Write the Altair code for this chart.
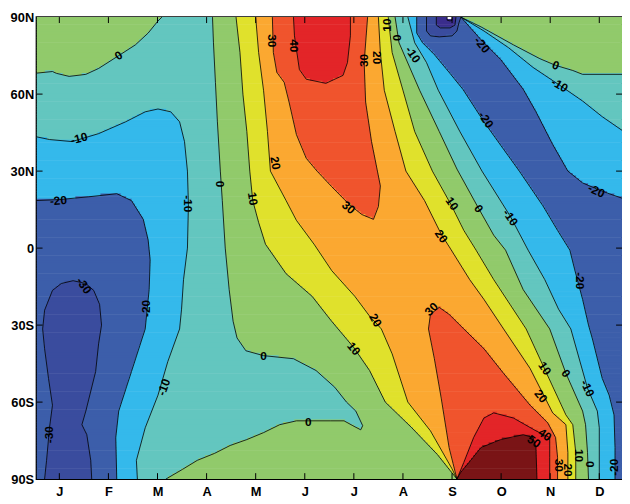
import altair as alt
import pandas as pd

# ---- axis text ----
MONTH_POS = [1, 2, 3, 4, 5, 6, 7, 8, 9, 10, 11, 12]
MONTH_LABELS = ["J", "F", "M", "A", "M", "J", "J", "A", "S", "O", "N", "D"]
LAT_TICKS = [-90, -60, -30, 0, 30, 60, 90]
LAT_LABELS = ["90S", "60S", "30S", "0", "30N", "60N", "90N"]

# ---- contour levels and band colours ----
LEVELS = [-50, -40, -30, -20, -10, 0, 10, 20, 30, 40, 50]
BAND_COLORS = ["#ffffff", "#3a2d8c", "#3a4c9e", "#3c5eaa", "#34b9eb", "#63c6bf",
               "#91ca6b", "#e0e12c", "#fba831", "#f0542d", "#e32528", "#7a1416"]

# ---- contour lines: (month, latitude) ----
C0_TOPLEFT = [(0.50, 68.1), (0.86, 68.8), (0.94, 68.1), (1.20, 66.9), (1.54, 67.7), (1.80, 70.0),
              (2.21, 75.0), (2.55, 79.2), (2.81, 83.8), (3.01, 88.5), (3.09, 90.0)]
CM10_LEFT = [(0.50, 43.5), (0.80, 42.3), (1.26, 41.5), (1.80, 44.6), (2.35, 49.2), (2.75, 53.1),
             (3.01, 54.2), (3.27, 53.1), (3.45, 49.2), (3.55, 41.5), (3.61, 30.0), (3.63, 16.9),
             (3.61, 0.0), (3.53, -12.3), (3.49, -23.8), (3.45, -31.5), (3.21, -44.2), (3.01, -57.3),
             (2.75, -70.0), (2.57, -82.7), (2.59, -90.0)]
CM20_LEFT = [(0.50, 18.5), (1.00, 18.9), (1.60, 20.0), (2.17, 21.2), (2.47, 18.5), (2.71, 11.2),
             (2.81, 3.1), (2.85, -4.6), (2.83, -16.2), (2.79, -23.8), (2.75, -31.5), (2.47, -48.1),
             (2.21, -63.5), (2.15, -73.8), (2.17, -90.0)]
CM30_LOOP = [(0.70, -90.0), (0.74, -82.7), (0.80, -70.0), (0.86, -61.2), (0.78, -50.8), (0.70, -39.2),
             (0.66, -31.5), (0.70, -24.2), (0.86, -16.5), (1.04, -13.8), (1.28, -12.7), (1.54, -13.8),
             (1.70, -16.5), (1.82, -21.9), (1.86, -30.0), (1.80, -37.3), (1.74, -48.1), (1.54, -63.5),
             (1.46, -68.8), (1.56, -72.7), (1.64, -82.7), (1.66, -90.0)]
C0_MAIN = [(4.12, 90.0), (4.14, 80.0), (4.18, 64.6), (4.22, 49.2), (4.28, 30.0), (4.32, 18.5),
           (4.38, 0.0), (4.46, -16.2), (4.54, -28.5), (4.62, -35.0), (4.80, -40.0), (5.16, -41.9),
           (5.77, -43.1), (6.23, -47.7), (6.61, -54.2), (6.85, -60.0), (7.04, -63.5), (7.18, -69.2),
           (7.14, -70.8), (6.98, -69.2), (6.80, -67.3), (6.53, -67.3), (5.83, -67.3), (5.49, -68.8),
           (5.16, -71.9), (4.82, -74.6), (4.48, -76.9), (4.16, -80.0), (3.81, -82.7), (3.51, -86.2),
           (3.17, -90.0)]
C10_LEFT = [(4.60, 90.0), (4.68, 76.2), (4.74, 60.0), (4.82, 45.4), (4.88, 30.0), (4.94, 18.5),
            (5.06, 10.0), (5.20, 1.5), (5.62, -10.0), (6.15, -18.8), (6.53, -28.1), (7.00, -38.8),
            (7.32, -47.7), (7.64, -60.0), (8.18, -70.0), (8.70, -80.4), (9.10, -90.0)]
C20_LEFT = [(5.00, 90.0), (5.06, 76.2), (5.16, 61.5), (5.24, 45.4), (5.30, 30.0), (5.62, 18.5),
            (5.83, 10.8), (6.19, 1.5), (6.55, -8.8), (7.02, -18.8), (7.32, -26.5), (7.56, -31.5),
            (7.78, -41.2), (8.10, -60.0), (8.56, -71.2), (9.00, -86.0), (9.10, -90.0)]
C30_TOP = [(5.34, 90.0), (5.36, 76.2), (5.43, 68.5), (5.58, 64.6), (5.68, 56.9), (5.83, 44.2),
           (6.03, 35.0), (6.25, 30.0), (6.55, 23.9), (6.89, 17.3), (7.16, 13.1), (7.40, 11.2),
           (7.50, 16.2), (7.54, 24.2), (7.48, 30.0), (7.36, 41.5), (7.24, 56.9), (7.21, 72.3),
           (7.28, 90.0)]
C40_TOP = [(5.77, 90.0), (5.79, 82.7), (5.89, 69.6), (6.03, 65.8), (6.43, 64.2), (6.78, 67.3),
           (6.87, 72.3), (6.93, 82.7), (6.93, 90.0)]
C20_RIGHT = [(7.50, 90.0), (7.54, 76.2), (7.62, 61.5), (7.84, 45.4), (8.06, 30.0), (8.44, 18.5),
             (8.78, 5.4), (8.96, 0.0), (9.36, -12.3), (9.65, -20.0), (10.05, -31.5), (10.59, -46.9),
             (11.05, -64.2), (11.32, -68.8), (11.36, -79.6), (11.36, -90.0)]
C10_RIGHT = [(7.70, 90.0), (7.78, 76.2), (8.00, 61.5), (8.24, 45.4), (8.60, 30.0), (8.98, 16.9),
             (9.24, 6.9), (9.49, -0.8), (9.85, -12.3), (10.51, -31.5), (10.91, -48.1), (11.32, -65.0),
             (11.46, -68.8), (11.52, -79.6), (11.52, -90.0)]
C0_RIGHT = [(7.84, 90.0), (7.92, 80.0), (8.34, 61.5), (8.74, 45.4), (9.10, 30.8), (9.52, 16.2),
            (9.85, 5.0), (10.09, -0.8), (10.45, -16.2), (10.99, -31.5), (11.32, -48.8), (11.66, -63.5),
            (11.72, -68.8), (11.76, -79.6), (11.78, -90.0)]
CM10_RIGHT = [(8.10, 90.0), (8.24, 80.0), (8.48, 72.3), (8.72, 61.5), (9.16, 45.4), (9.61, 30.0),
              (10.19, 12.3), (10.55, -0.8), (10.89, -12.3), (11.17, -23.8), (11.42, -31.5),
              (11.76, -54.6), (11.96, -63.5), (12.00, -70.0), (12.00, -90.0)]
CM20_RIGHT = [(8.28, 90.0), (8.28, 83.8), (8.40, 80.0), (8.64, 75.4), (8.94, 68.5), (9.22, 61.9),
              (9.65, 49.2), (10.05, 38.5), (10.37, 30.0), (10.85, 16.5), (11.15, 6.9), (11.40, -0.8),
              (11.50, -8.5), (11.66, -20.0), (11.78, -30.0), (11.86, -35.4), (12.06, -50.8),
              (12.20, -57.3), (12.30, -65.0), (12.32, -77.7), (12.32, -90.0)]
CM20_TOPRIGHT = [(9.18, 90.0), (9.59, 81.2), (9.99, 73.5), (10.45, 61.9), (10.71, 53.1), (11.05, 40.4),
                 (11.36, 30.0), (11.66, 25.4), (11.94, 23.1), (12.20, 21.2), (12.50, 19.2)]
CM10_TOPRIGHT = [(9.18, 90.0), (9.65, 84.6), (10.15, 78.1), (10.65, 70.4), (11.19, 63.5), (11.66, 57.3),
                 (12.06, 51.2), (12.50, 45.4)]
C0_TOPRIGHT = [(9.18, 90.0), (9.59, 86.2), (10.25, 79.2), (10.79, 73.8), (11.11, 71.2), (11.46, 69.2),
               (11.66, 67.7), (12.50, 67.7)]
CM30_TOP = [(8.48, 90.0), (8.48, 84.6), (8.56, 82.7), (8.74, 82.3), (9.00, 82.7), (9.10, 84.6),
            (9.14, 87.7), (9.18, 90.0)]
CM40_TOP = [(8.68, 90.0), (8.68, 86.9), (8.76, 85.8), (8.96, 85.8), (9.06, 86.9), (9.08, 90.0)]
CM50_TOP = [(8.90, 90.0), (8.90, 88.8), (8.96, 88.5), (9.00, 88.8), (9.00, 90.0)]
C30_BOTTOM = [(9.10, -90.0), (8.94, -77.7), (8.78, -58.5), (8.64, -43.1), (8.52, -31.5), (8.56, -25.8),
              (8.74, -23.1), (8.94, -25.8), (9.24, -31.5), (9.65, -39.2), (10.05, -48.8), (10.59, -61.2),
              (10.95, -68.1), (11.11, -73.8), (11.15, -81.5), (11.15, -90.0)]
C40_BOTTOM = [(9.10, -90.0), (9.24, -83.5), (9.44, -73.8), (9.65, -66.2), (9.85, -64.2), (10.25, -66.2),
              (10.71, -71.2), (10.99, -73.8), (10.99, -81.5), (10.99, -90.0)]
C50_BOTTOM = [(9.10, -90.0), (9.18, -87.3), (9.38, -82.7), (9.59, -77.7), (9.99, -74.6), (10.45, -72.7),
              (10.65, -73.8), (10.71, -77.7), (10.73, -90.0)]

CONTOURS = [
    (0, C0_TOPLEFT), (-10, CM10_LEFT), (-20, CM20_LEFT), (-30, CM30_LOOP), (0, C0_MAIN),
    (10, C10_LEFT), (20, C20_LEFT), (30, C30_TOP), (40, C40_TOP), (20, C20_RIGHT),
    (10, C10_RIGHT), (0, C0_RIGHT), (-10, CM10_RIGHT), (-20, CM20_RIGHT), (-20, CM20_TOPRIGHT),
    (-10, CM10_TOPRIGHT), (0, C0_TOPRIGHT), (-30, CM30_TOP), (-40, CM40_TOP), (-50, CM50_TOP),
    (30, C30_BOTTOM), (40, C40_BOTTOM), (50, C50_BOTTOM),
]

# ---- contour labels: text, month, latitude, rotation ----
LABEL_TEXT = ["0", "-10", "-20", "-10", "0", "10", "30", "20", "10", "0", "-10", "-20", "-20", "-20",
              "0", "-10", "-10", "0", "10", "20", "30", "30", "40", "20", "-30", "-20", "-10", "0",
              "0", "10", "20", "30", "-30", "10", "0", "-10", "20", "40", "50", "30", "20", "10",
              "0", "-20", "-20"]
LABEL_M = [2.21, 1.40, 0.98, 3.63, 4.28, 4.94, 6.89, 8.78, 9.00, 9.54, 10.19, 11.94, 9.61, 9.69,
           11.11, 11.19, 8.20, 7.88, 7.68, 7.48, 7.20, 5.34, 5.77, 5.40, 1.50, 2.77, 3.13, 5.16,
           6.07, 7.00, 7.44, 8.58, 0.80, 10.89, 11.32, 11.76, 10.81, 10.89, 10.67, 11.17, 11.36,
           11.58, 11.80, 12.30, 11.60]
LABEL_LAT = [75.0, 42.7, 18.5, 17.3, 25.0, 19.2, 15.8, 4.6, 17.3, 15.4, 11.9, 22.3, 79.2, 50.0,
             71.2, 63.5, 75.4, 81.9, 86.9, 74.2, 73.1, 80.8, 78.8, 33.1, -14.6, -23.5, -54.2, -41.9,
             -67.7, -39.2, -28.1, -23.8, -72.7, -46.9, -48.8, -54.6, -57.7, -72.7, -75.4, -84.6,
             -86.5, -80.8, -84.2, -85.4, -12.7]
LABEL_ANGLE = [327, 345, 355, 90, 90, 80, 40, 55, 55, 55, 55, 25, 50, 55,
               20, 30, 55, 90, 270, 90, 270, 90, 90, 80, 55, 270, 290, 0,
               0, 50, 60, 315, 270, 55, 55, 65, 50, 35, 35, 90, 90, 90,
               90, 270, 90]

X0, X1 = 0.5375, 12.4625
W, H = 593, 468

# ---- filled bands: each 1-degree row split where the contour lines cross it ----
band_names = ["b%02d" % i for i in range(len(BAND_COLORS))]
fill_rows = []
for i in range(180):
    top = 90 - i
    yc = top - 0.5
    xs = []
    for level, pts in CONTOURS:
        k = LEVELS.index(level)
        for (xa, ya), (xb, yb) in zip(pts[:-1], pts[1:]):
            if (ya <= yc < yb) or (yb <= yc < ya):
                xs.append((xa + (xb - xa) * (yc - ya) / (yb - ya), k))
    xs.sort()
    n = len(xs)
    bands = [None] * (n + 1)
    j0 = next(j for j in range(1, n) if xs[j - 1][1] != xs[j][1])
    bands[j0] = min(xs[j0 - 1][1], xs[j0][1]) + 1
    for j in range(j0 + 1, n + 1):
        k = xs[j - 1][1]
        bands[j] = k + 1 if bands[j - 1] <= k else k
    for j in range(j0 - 1, -1, -1):
        k = xs[j][1]
        bands[j] = k if bands[j + 1] >= k + 1 else k + 1
    edges = [X0] + [min(max(x, X0), X1) for x, _ in xs] + [X1]
    for j in range(n + 1):
        if edges[j + 1] > edges[j]:
            right = edges[j + 1] + (0.012 if j < n else 0.0)
            fill_rows.append({"x0": edges[j], "x1": right, "y0": top - 1,
                              "y1": min(top + 0.25, 90), "band": band_names[bands[j]]})
fill_df = pd.DataFrame(fill_rows)

line_rows = []
for cid, (level, pts) in enumerate(CONTOURS):
    for idx, (m, lat) in enumerate(pts):
        line_rows.append({"cid": cid, "idx": idx, "m": m, "lat": lat})
line_df = pd.DataFrame(line_rows)

label_df = pd.DataFrame({"t": LABEL_TEXT, "m": LABEL_M, "lat": LABEL_LAT, "a": LABEL_ANGLE})

xs_ = alt.Scale(domain=[X0, X1], nice=False, zero=False)
ys_ = alt.Scale(domain=[-90, 90], nice=False, zero=False)
band_scale = alt.Scale(domain=band_names, range=BAND_COLORS)

month_expr = "[" + ",".join("'%s'" % s for s in MONTH_LABELS) + "][datum.value - 1]"
lat_expr = "[" + ",".join("'%s'" % s for s in LAT_LABELS) + "][(datum.value + 90) / 30]"

fill = alt.Chart(fill_df).mark_rect(strokeWidth=0, clip=True).encode(
    x=alt.X("x0:Q", scale=xs_, axis=alt.Axis(values=MONTH_POS, labelExpr=month_expr, ticks=False,
                                             tickSize=0, domain=False, grid=False, title=None,
                                             labelPadding=7, labelFontSize=13, labelFontWeight="bold",
                                             labelFont="Liberation Sans", labelColor="black")),
    x2="x1:Q",
    y=alt.Y("y0:Q", scale=ys_, axis=alt.Axis(values=LAT_TICKS, labelExpr=lat_expr, ticks=False,
                                             tickSize=0, domain=False, grid=False, title=None,
                                             labelPadding=3, labelFontSize=13, labelFontWeight="bold",
                                             labelFont="Liberation Sans", labelColor="black")),
    y2="y1:Q",
    color=alt.Color("band:N", scale=band_scale, legend=None),
)

lines = alt.Chart(line_df).mark_line(color="black", strokeWidth=0.8, clip=True).encode(
    x=alt.X("m:Q", scale=xs_), y=alt.Y("lat:Q", scale=ys_), detail="cid:N", order="idx:Q")

labels = alt.Chart(label_df).mark_text(font="Liberation Sans", fontSize=12, fontWeight="bold",
                                       color="black").encode(
    x=alt.X("m:Q", scale=xs_), y=alt.Y("lat:Q", scale=ys_), text="t:N",
    angle=alt.Angle("a:Q", scale=None))

mdf = pd.DataFrame({"m": MONTH_POS})
ldf = pd.DataFrame({"lat": LAT_TICKS[1:-1]})
tb = alt.Chart(mdf).mark_rule(color="black").encode(x=alt.X("m:Q", scale=xs_), y=alt.value(H), y2=alt.value(H - 6))
tt = alt.Chart(mdf).mark_rule(color="black").encode(x=alt.X("m:Q", scale=xs_), y=alt.value(0), y2=alt.value(6))
tl = alt.Chart(ldf).mark_rule(color="black").encode(y=alt.Y("lat:Q", scale=ys_), x=alt.value(0), x2=alt.value(6))
tr = alt.Chart(ldf).mark_rule(color="black").encode(y=alt.Y("lat:Q", scale=ys_), x=alt.value(W - 6), x2=alt.value(W))

chart = alt.layer(fill, lines, labels, tb, tt, tl, tr).properties(
    width=W, height=H, autosize="none",
    padding={"left": 29, "top": 6, "right": 0, "bottom": 22},
).configure_view(stroke="black", strokeWidth=2)

chart.save("out.html", embed_options={"renderer": "svg", "actions": False})
